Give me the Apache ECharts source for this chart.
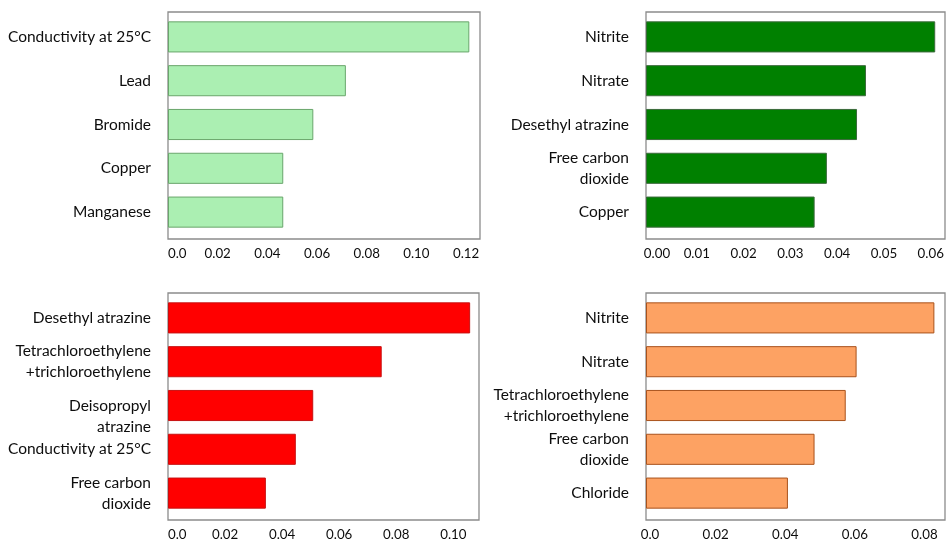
<!DOCTYPE html>
<html>
<head>
<meta charset="utf-8">
<script src="https://cdn.jsdelivr.net/npm/echarts@6/dist/echarts.min.js"></script>
<style>
html,body{margin:0;padding:0;background:#fff;}
#chart{width:948px;height:541px;}
</style>
</head>
<body>
<div id="chart"></div>
<script>
// ---- data ----
const catsA = ['Conductivity at 25°C', 'Lead', 'Bromide', 'Copper', 'Manganese'];
const valsA = [0.1213, 0.0716, 0.0585, 0.0464, 0.0464];
const ticksA = ['0.0', '0.02', '0.04', '0.06', '0.08', '0.10', '0.12'];

const catsB = ['Nitrite', 'Nitrate', 'Desethyl atrazine', 'Free carbon\ndioxide', 'Copper'];
const valsB = [0.0614, 0.0467, 0.0448, 0.0384, 0.0358];
const ticksB = ['0.00', '0.01', '0.02', '0.03', '0.04', '0.05', '0.06'];

const catsC = ['Desethyl atrazine', 'Tetrachloroethylene\n+trichloroethylene', 'Deisopropyl\natrazine', 'Conductivity at 25°C', 'Free carbon\ndioxide'];
const valsC = [0.1059, 0.0749, 0.0509, 0.0448, 0.0343];
const ticksC = ['0.0', '0.02', '0.04', '0.06', '0.08', '0.10'];

const catsD = ['Nitrite', 'Nitrate', 'Tetrachloroethylene\n+trichloroethylene', 'Free carbon\ndioxide', 'Chloride'];
const valsD = [0.0823, 0.0601, 0.0570, 0.0481, 0.0405];
const ticksD = ['0.0', '0.02', '0.04', '0.06', '0.08'];

// ---- layout / style ----
const panels = [
  {cats: catsA, vals: valsA, ticks: ticksA, interval: 0.02, max: 0.1256, left: 168, top: 12, width: 312, fill: '#abefb2', border: '#6aa66c', alignMin: 'left', firstPad: 0, restPad: 0},
  {cats: catsB, vals: valsB, ticks: ticksB, interval: 0.01, max: 0.0639, left: 646, top: 12, width: 301, fill: '#008000', border: '#3b6a3b', alignMin: 'center', firstPad: 22, restPad: 8},
  {cats: catsC, vals: valsC, ticks: ticksC, interval: 0.02, max: 0.109, left: 168, top: 293, width: 311, fill: '#ff0000', border: '#c81010', alignMin: 'left', firstPad: 0, restPad: 0},
  {cats: catsD, vals: valsD, ticks: ticksD, interval: 0.02, max: 0.0859, left: 646, top: 293, width: 301, fill: '#fda263', border: '#a9521c', alignMin: 'center', firstPad: 8, restPad: 0}
];

const FONT = 'Lato';
const TXT = '#0d0d0d';
const grid = [], xAxis = [], yAxis = [], series = [];

panels.forEach((p, i) => {
  const bi = 2 * i, di = 2 * i + 1;
  grid.push({left: p.left, top: p.top, width: p.width, height: 227, show: true,
    borderColor: '#8c8c8c', borderWidth: 1.3, backgroundColor: 'transparent', containLabel: false});
  grid.push({left: p.left, top: p.top + 3, width: p.width, height: 219, show: false, containLabel: false});

  const tickStyle = {fontFamily: FONT, fontSize: 13.3, color: TXT};
  xAxis.push({
    type: 'value', gridIndex: bi, min: 0, max: p.max, interval: p.interval,
    axisLine: {show: false}, axisTick: {show: false}, splitLine: {show: false},
    axisLabel: {
      margin: 8, fontFamily: FONT, fontSize: 13.3, color: TXT,
      alignMinLabel: p.alignMin, showMaxLabel: true,
      rich: {
        f: Object.assign({padding: [0, 0, 0, p.firstPad]}, tickStyle),
        r: Object.assign({padding: [0, 0, 0, p.restPad]}, tickStyle)
      },
      formatter: function (v) {
        const k = Math.round(v / p.interval);
        if (Math.abs(k * p.interval - v) > 1e-9) return '';
        if (p.ticks[k] === undefined) return '';
        return (k === 0 ? '{f|' : '{r|') + p.ticks[k] + '}';
      }
    }
  });
  yAxis.push({type: 'value', gridIndex: bi, show: false, min: 0, max: 1});

  xAxis.push({type: 'value', gridIndex: di, min: 0, max: p.max, show: false});
  yAxis.push({
    type: 'category', gridIndex: di, inverse: true, data: p.cats,
    axisLine: {show: false}, axisTick: {show: false}, splitLine: {show: false},
    axisLabel: {
      margin: 17, fontFamily: FONT, fontSize: 15.5, lineHeight: 21, color: TXT, interval: 0,
      // the "Deisopropyl atrazine" label sits half a line lower in the reference
      formatter: v => v.startsWith('Deisopropyl') ? '\n' + v : v
    }
  });

  series.push({
    type: 'bar', xAxisIndex: di, yAxisIndex: di, data: p.vals,
    barCategoryGap: '29%',
    itemStyle: {color: p.fill, borderColor: p.border, borderWidth: 1},
    silent: true, animation: false
  });
});

const chart = echarts.init(document.getElementById('chart'), null, {renderer: 'canvas'});
chart.setOption({animation: false, grid, xAxis, yAxis, series});
</script>
</body>
</html>
